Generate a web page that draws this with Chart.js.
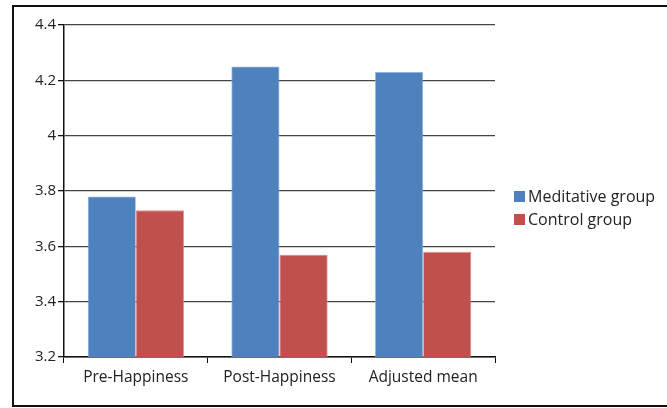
<!DOCTYPE html>
<html>
<head>
<meta charset="utf-8">
<script src="https://cdn.jsdelivr.net/npm/chart.js@4.4.1/dist/chart.umd.min.js"></script>
<style>
  html, body { margin: 0; padding: 0; background: #fff; }
  #wrap { position: relative; width: 667px; height: 408px; overflow: hidden; }
  #frame { position: absolute; left: 12px; top: 5px; width: 700px; height: 402px; border: 2px solid #111; box-sizing: border-box; }
  canvas { position: absolute; left: 0; top: 0; }
</style>
</head>
<body>
<div id="wrap">
  <div id="frame"></div>
  <canvas id="c" width="667" height="408"></canvas>
</div>
<script>
const categories = ['Pre-Happiness', 'Post-Happiness', 'Adjusted mean'];
const meditativeGroup = [3.78, 4.25, 4.23];
const controlGroup = [3.73, 3.57, 3.58];
const yTicks = [3.2, 3.4, 3.6, 3.8, 4, 4.2, 4.4];

const FONT = '"Open Sans", "Liberation Sans", sans-serif';

// Legend drawn at the right of the plot, centred vertically
const sideLegend = {
  id: 'sideLegend',
  afterDraw(chart) {
    const ctx = chart.ctx;
    const x0 = 514, yCenters = [197, 220];
    ctx.save();
    ctx.font = '16px ' + FONT;
    ctx.textBaseline = 'middle';
    chart.data.datasets.forEach((ds, i) => {
      const y = yCenters[i];
      ctx.fillStyle = ds.backgroundColor;
      ctx.fillRect(x0, y - 6, 11, 11);
      ctx.fillStyle = '#222';
      ctx.fillText(ds.label, x0 + 14, y);
    });
    ctx.restore();
  }
};

new Chart(document.getElementById('c'), {
  type: 'bar',
  data: {
    labels: categories,
    datasets: [
      { label: 'Meditative group', data: meditativeGroup, backgroundColor: '#4F81BD',
        borderColor: '#8AB0DE', borderWidth: 0.8 },
      { label: 'Control group', data: controlGroup, backgroundColor: '#C0504D',
        borderColor: '#DE8A87', borderWidth: 0.8 }
    ]
  },
  options: {
    responsive: false,
    animation: false,
    devicePixelRatio: 1,
    layout: { padding: { left: 14, right: 172, top: 25, bottom: 0 } },
    plugins: { legend: { display: false }, tooltip: { enabled: false } },
    datasets: { bar: { categoryPercentage: 0.67, barPercentage: 1.0 } },
    scales: {
      x: {
        afterFit(s) { s.height = 51; },
        grid: {
          offset: true,
          drawOnChartArea: true,
          color: (c) => c.index === categories.length ? '#b0b0b0' : 'rgba(0,0,0,0)',
          tickColor: '#111',
          tickLength: 6,
          lineWidth: 1
        },
        border: { color: '#111', width: 1.5 },
        ticks: { color: '#222', font: { family: FONT, size: 15.5 }, padding: 5 }
      },
      y: {
        min: 3.2, max: 4.4,
        afterFit(s) { s.width = 50; },
        afterBuildTicks(s) { s.ticks = yTicks.map(v => ({ value: v })); },
        grid: { color: '#444', lineWidth: 1.3, tickColor: '#111', tickLength: 6 },
        border: { color: '#111', width: 1.5 },
        ticks: {
          color: '#222', font: { family: FONT, size: 15 }, padding: 2,
          callback: (v) => String(Math.round(v * 10) / 10)
        }
      }
    }
  },
  plugins: [sideLegend]
});
</script>
</body>
</html>
